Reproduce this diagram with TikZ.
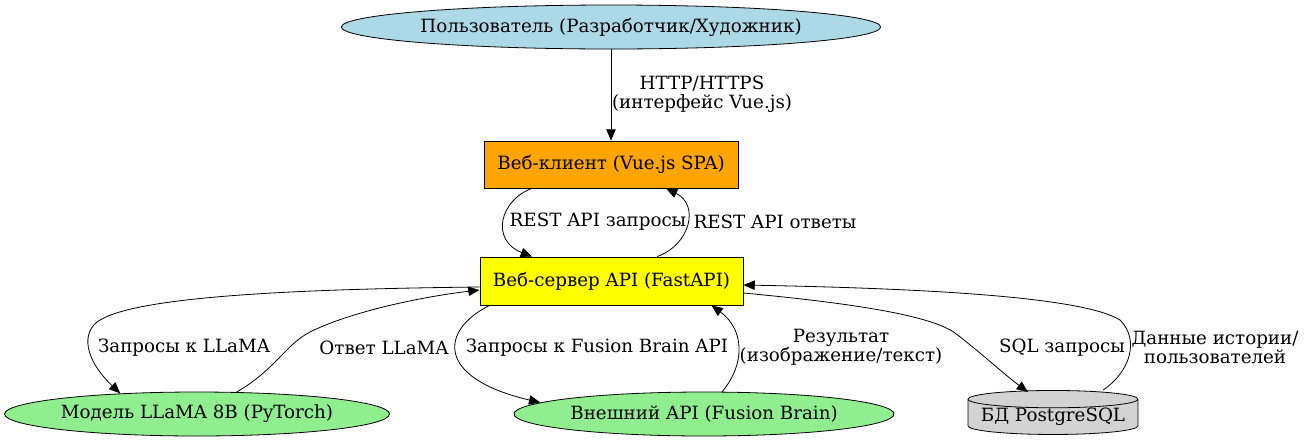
\documentclass[tikz,border=0pt]{standalone}
\usepackage{fontspec}
\setmainfont{DejaVu Serif}
\usetikzlibrary{shapes.geometric,arrows.meta,calc}
\definecolor{userblue}{HTML}{ADD8E6}
\definecolor{clientorange}{HTML}{FFA500}
\definecolor{serveryellow}{HTML}{FFFF00}
\definecolor{extgreen}{HTML}{90EE90}
\definecolor{dbgray}{HTML}{D3D3D3}
\begin{document}
\begin{tikzpicture}[x=0.75pt,y=-0.75pt,line width=0.6pt,
        font=\fontsize{13.7}{14.25}\selectfont,
        arr/.style={-{Triangle[length=8.5pt,width=7pt]}},
        ell/.style={ellipse,draw,inner sep=0pt,minimum height=33pt},
        box/.style={rectangle,draw,inner sep=0pt},
        lbl/.style={align=center,inner sep=0pt}]
    \useasboundingbox (0,0) rectangle (1307,447);
    \node[ell,fill=userblue,minimum width=397.5pt] (user) at (611,27) {Пользователь (Разработчик/Художник)};
    \node[box,fill=clientorange,minimum width=190.5pt,minimum height=35.25pt] (client) at (611,164.5) {Веб-клиент (Vue.js SPA)};
    \node[box,fill=serveryellow,minimum width=197.25pt,minimum height=36pt] (server) at (611.5,281) {Веб-сервер API (FastAPI)};
    \node[ell,fill=extgreen,minimum width=288pt] (llama) at (197,414) {Модель LLaMA 8B (PyTorch)};
    \node[ell,fill=extgreen,minimum width=285pt] (fusion) at (704,414) {Внешний API (Fusion Brain)};
    \node[cylinder,shape border rotate=90,aspect=0.12,draw,fill=dbgray,inner sep=0pt,
        minimum width=127.5pt,minimum height=33pt] (db) at (1053,417) {БД PostgreSQL};

    \draw[arr] (user) -- (client);
    \node[lbl] (lhttp) at (702,94.5) {HTTP/HTTPS\\(интерфейс Vue.js)};

    \draw[arr] ($(client.south)+(-79,0)$) .. controls (500,200) and (490,240) .. ($(server.north)+(-79.5,0)$);
    \node[lbl] (lrestreq) at (598,222) {REST API запросы};
    \draw[arr] ($(server.north)+(45.5,0)$) .. controls (690,245) and (700,205) .. ($(client.south)+(55,0)$);
    \node[lbl] (lrestans) at (775,222) {REST API ответы};

    \draw[arr] ($(server.west)+(0,6)$) .. controls (300,289) and (140,296) .. (100,320)
        .. controls (80,332) and (85,360) .. (llama.165);
    \node[lbl] (lllamareq) at (184,348) {Запросы к LLaMA};
    \draw[arr] (llama.29) .. controls (275,370) and (285,345) .. (310,332)
        .. controls (350,312) and (420,297) .. ($(server.west)+(0,9)$);
    \node[lbl] (lllamaans) at (384,348) {Ответ LLaMA};

    \draw[arr] ($(server.south west)+(10,0)$) .. controls (440,330) and (435,378) .. (fusion.176);
    \node[lbl] (lfusionreq) at (597,348) {Запросы к Fusion Brain API};
    \draw[arr] (fusion.51) .. controls (745,365) and (745,330) .. ($(server.south)+(100,0)$);
    \node[lbl] (lfusionans) at (841,347.5) {Результат\\(изображение/текст)};

    \draw[arr] ($(server.east)+(0,12)$) .. controls (850,303) and (930,315) .. (955,333)
        .. controls (980,352) and (1005,375) .. ($(db.north)+(-25,2)$);
    \node[lbl] (lsqlreq) at (1062,348) {SQL запросы};
    \draw[arr] ($(db.north)+(50,0)$) .. controls (1130,372) and (1140,340) .. (1120,320)
        .. controls (1080,295) and (900,288) .. ($(server.east)+(0,4)$);
    \node[lbl] (lsqlans) at (1215,347.5) {Данные истории/\\пользователей};
\end{tikzpicture}
\end{document}
